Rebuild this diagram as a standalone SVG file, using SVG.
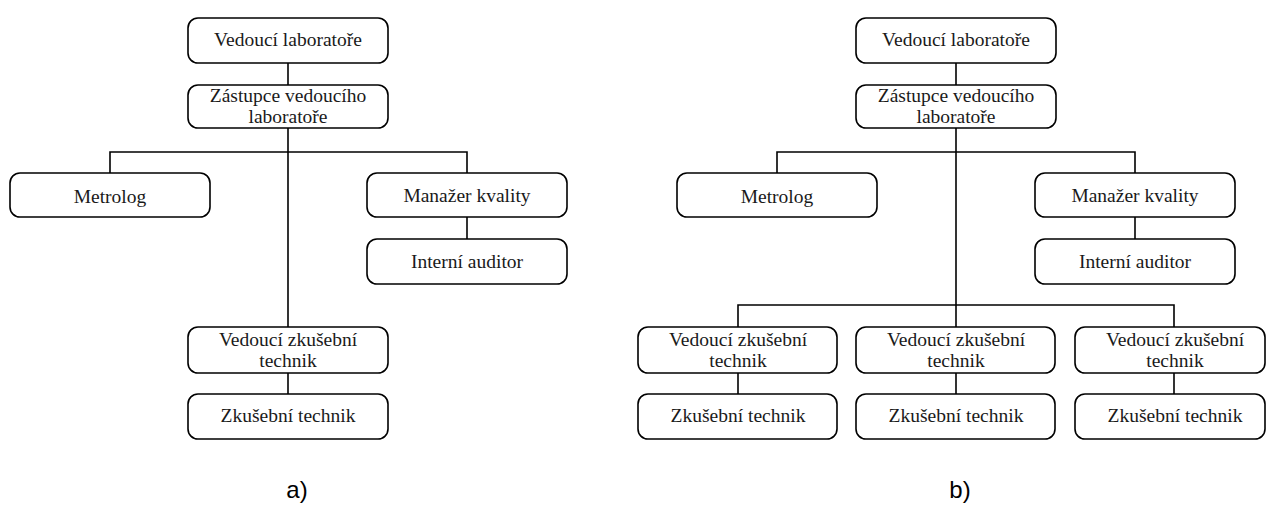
<svg xmlns="http://www.w3.org/2000/svg" width="1267" height="507" viewBox="0 0 1267 507">
<style>
.box{fill:#fff;stroke:#000;stroke-width:1.6}
.t{font-family:'Liberation Serif','Times New Roman',Times,serif;font-size:19.5px;fill:#1a1a1a;text-anchor:middle}
.lbl{font-family:'Liberation Sans',Arial,sans-serif;font-size:24px;fill:#000;text-anchor:middle}
.c{fill:none;stroke:#000;stroke-width:1.6}
</style>
<rect width="1267" height="507" fill="#fff"/>
<g id="connectors">
<path class="c" d="M288 63V85"/>
<path class="c" d="M288 128V327"/>
<path class="c" d="M110 173V152H467V173"/>
<path class="c" d="M467 217V239"/>
<path class="c" d="M288 373V394"/>
<path class="c" d="M956 63V85"/>
<path class="c" d="M956 128V327"/>
<path class="c" d="M777 173V152H1135V173"/>
<path class="c" d="M1135 217V239"/>
<path class="c" d="M738 327V305H1174V327"/>
<path class="c" d="M738 373V394"/>
<path class="c" d="M956 373V394"/>
<path class="c" d="M1174 373V394"/>
</g>
<g id="a-vedouci-lab"><rect class="box" x="188" y="18" width="200" height="45" rx="10"/><text class="t" x="288" y="46">Vedoucí laboratoře</text></g>
<g id="a-zastupce"><rect class="box" x="188" y="85" width="200" height="43" rx="10"/><text class="t" x="288" y="102">Zástupce vedoucího</text><text class="t" x="288" y="123">laboratoře</text></g>
<g id="a-metrolog"><rect class="box" x="10" y="173" width="200" height="44" rx="10"/><text class="t" x="110" y="203">Metrolog</text></g>
<g id="a-manazer"><rect class="box" x="367" y="173" width="200" height="44" rx="10"/><text class="t" x="467" y="202">Manažer kvality</text></g>
<g id="a-auditor"><rect class="box" x="367" y="239" width="200" height="45" rx="10"/><text class="t" x="467" y="268">Interní auditor</text></g>
<g id="a-vedouci-zk"><rect class="box" x="188" y="327" width="200" height="46" rx="10"/><text class="t" x="288" y="346">Vedoucí zkušební</text><text class="t" x="288" y="367">technik</text></g>
<g id="a-zk-technik"><rect class="box" x="188" y="394" width="200" height="45" rx="10"/><text class="t" x="288" y="422">Zkušební technik</text></g>
<g id="b-vedouci-lab"><rect class="box" x="856" y="18" width="200" height="45" rx="10"/><text class="t" x="956" y="46">Vedoucí laboratoře</text></g>
<g id="b-zastupce"><rect class="box" x="856" y="85" width="200" height="43" rx="10"/><text class="t" x="956" y="102">Zástupce vedoucího</text><text class="t" x="956" y="123">laboratoře</text></g>
<g id="b-metrolog"><rect class="box" x="677" y="173" width="200" height="44" rx="10"/><text class="t" x="777" y="203">Metrolog</text></g>
<g id="b-manazer"><rect class="box" x="1035" y="173" width="200" height="44" rx="10"/><text class="t" x="1135" y="202">Manažer kvality</text></g>
<g id="b-auditor"><rect class="box" x="1035" y="239" width="200" height="45" rx="10"/><text class="t" x="1135" y="268">Interní auditor</text></g>
<g id="b-vedouci-zk-1"><rect class="box" x="638" y="327" width="199" height="46" rx="10"/><text class="t" x="738" y="346">Vedoucí zkušební</text><text class="t" x="738" y="367">technik</text></g>
<g id="b-zk-technik-1"><rect class="box" x="638" y="394" width="199" height="45" rx="10"/><text class="t" x="738" y="422">Zkušební technik</text></g>
<g id="b-vedouci-zk-2"><rect class="box" x="856" y="327" width="199" height="46" rx="10"/><text class="t" x="956" y="346">Vedoucí zkušební</text><text class="t" x="956" y="367">technik</text></g>
<g id="b-zk-technik-2"><rect class="box" x="856" y="394" width="199" height="45" rx="10"/><text class="t" x="956" y="422">Zkušební technik</text></g>
<g id="b-vedouci-zk-3"><rect class="box" x="1075" y="327" width="190" height="46" rx="10"/><text class="t" x="1175" y="346">Vedoucí zkušební</text><text class="t" x="1175" y="367">technik</text></g>
<g id="b-zk-technik-3"><rect class="box" x="1075" y="394" width="190" height="45" rx="10"/><text class="t" x="1175" y="422">Zkušební technik</text></g>
<text class="lbl" x="297" y="498">a)</text>
<text class="lbl" x="960" y="498">b)</text>
</svg>
